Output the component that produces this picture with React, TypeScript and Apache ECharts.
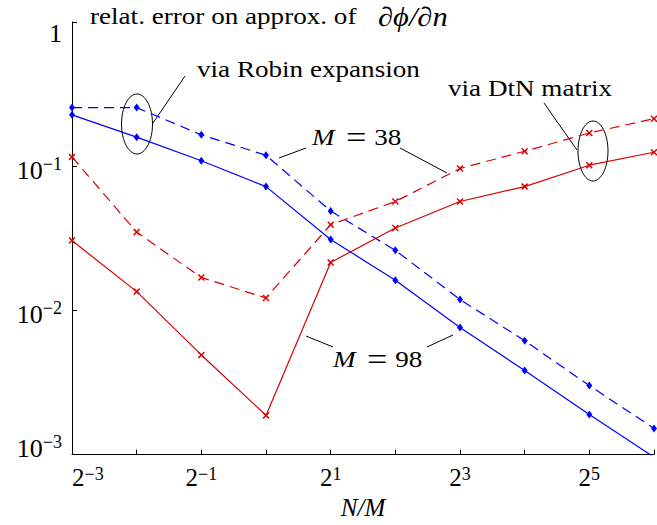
import React, { useEffect, useRef } from 'react';
import * as echarts from 'echarts';

// N/M = 2^k
const ratioExponents = [-3, -2, -1, 0, 1, 2, 3, 4, 5, 6];
// relative errors, "via Robin expansion" (blue)
const robinM38 = [0.255, 0.255, 0.165, 0.119, 0.0489, 0.0261, 0.0119, 0.00616, 0.00301, 0.00152];
const robinM98 = [0.227, 0.159, 0.109, 0.0722, 0.031, 0.0162, 0.0076, 0.00383, 0.0019, 0.00096];
// relative errors, "via DtN matrix" (red)
const dtnM38 = [0.116, 0.0349, 0.0169, 0.0122, 0.0393, 0.0569, 0.0964, 0.127, 0.17, 0.2135];
const dtnM98 = [0.0305, 0.0135, 0.00491, 0.00187, 0.0215, 0.0373, 0.0569, 0.0722, 0.1016, 0.125];
// tick labels
const xLabelExponents = [-3, -1, 1, 3, 5];
const yLabelExponents = [-3, -2, -1, 0];

const titleText = 'relat. error on approx. of ';
const titleMath = '∂ϕ/∂n';
const xAxisName = 'N/M';

const SERIF = 'Liberation Serif, serif';
const BLUE = '#0000ff';
const RED = '#d80000';
const CROSS = 'path://M0,1.5L1.5,0L5,3.5L8.5,0L10,1.5L6.5,5L10,8.5L8.5,10L5,6.5L1.5,10L0,8.5L3.5,5Z';

const toPairs = (vals: number[]) => ratioExponents.map((e, i) => [Math.pow(2, e), vals[i]]);
const sup = (s: number) => (s < 0 ? '\u2212' + Math.abs(s) : String(s));

export default function App() {
  const ref = useRef<HTMLDivElement>(null);
  useEffect(() => {
    if (!ref.current) return;
    const chart = echarts.init(ref.current, undefined, { renderer: 'svg' });
    const tf = (size: number, extra: any = {}) => ({ fontFamily: SERIF, fontSize: size, color: '#000', ...extra });
    const annSX = 1.13;
    const line = (x1: number, y1: number, x2: number, y2: number) => ({
      type: 'line', shape: { x1, y1, x2, y2 }, style: { stroke: '#000', lineWidth: 1 }, silent: true,
    });
    const mathRich = {
      i: tf(24, { fontStyle: 'italic', lineHeight: 30 }),
      e: tf(32, { lineHeight: 30, padding: [0, 7, 0, 10] }),
      r: tf(24, { lineHeight: 30 }),
    };
    const option: any = {
      animation: false,
      backgroundColor: '#fff',
      grid: { left: 72, right: 0, top: 22, bottom: 66, containLabel: false },
      xAxis: {
        type: 'log',
        logBase: 2,
        min: Math.pow(2, ratioExponents[0]),
        max: Math.pow(2, ratioExponents[ratioExponents.length - 1]),
        splitNumber: 9,
        splitLine: { show: false },
        minorTick: { show: false },
        axisLine: { lineStyle: { color: '#000', width: 1 } },
        axisTick: { inside: true, length: 5, lineStyle: { color: '#000', width: 1 } },
        axisLabel: {
          margin: 10,
          alignMinLabel: 'left',
          verticalAlign: 'top',
          formatter: (v: number) => {
            const k = Math.round(Math.log2(v));
            return xLabelExponents.includes(k) ? `{b|2}{s|${sup(k)}}` : '';
          },
          rich: {
            b: tf(25, { lineHeight: 26 }),
            s: tf(18, { lineHeight: 13, verticalAlign: 'top' }),
          },
        },
        name: xAxisName,
        nameLocation: 'middle',
        nameGap: 37,
        nameTextStyle: tf(25, { fontStyle: 'italic', lineHeight: 25 }),
      },
      yAxis: {
        type: 'log',
        logBase: 10,
        min: 0.001,
        max: 1,
        splitLine: { show: false },
        minorTick: { show: false },
        axisLine: { lineStyle: { color: '#000', width: 1 } },
        axisTick: { inside: true, length: 5, lineStyle: { color: '#000', width: 1 } },
        axisLabel: {
          margin: 10,
          verticalAlignMinLabel: 'bottom',
          verticalAlignMaxLabel: 'top',
          formatter: (v: number) => {
            const k = Math.round(Math.log10(v));
            if (!yLabelExponents.includes(k)) return '';
            if (k === 0) return '{one|1}';
            return `{b|10}{s|${sup(k)}}`;
          },
          rich: {
            b: tf(26, { lineHeight: 22, padding: [9, 0, 0, 0] }),
            s: tf(18, { lineHeight: 21, verticalAlign: 'top' }),
            one: tf(26, { lineHeight: 22 }),
          },
        },
      },
      series: [
        {
          type: 'line', name: 'Robin M=38', data: toPairs(robinM38),
          symbol: 'diamond', symbolSize: [6, 8], showSymbol: true,
          lineStyle: { color: BLUE, width: 1.2, type: [10, 6] }, itemStyle: { color: BLUE },
        },
        {
          type: 'line', name: 'Robin M=98', data: toPairs(robinM98),
          symbol: 'diamond', symbolSize: [6, 8],
          lineStyle: { color: BLUE, width: 1.2 }, itemStyle: { color: BLUE },
        },
        {
          type: 'line', name: 'DtN M=38', data: toPairs(dtnM38),
          symbol: CROSS, symbolSize: 7,
          lineStyle: { color: RED, width: 1.2, type: [10, 6] }, itemStyle: { color: RED },
        },
        {
          type: 'line', name: 'DtN M=98', data: toPairs(dtnM98),
          symbol: CROSS, symbolSize: 7,
          lineStyle: { color: RED, width: 1.2 }, itemStyle: { color: RED },
        },
      ],
      graphic: [
        {
          type: 'text', x: 90, y: 16.5, scaleX: annSX, silent: true,
          style: {
            text: `{t|${titleText}}{m|${titleMath}}`,
            align: 'left', verticalAlign: 'middle',
            rich: {
              t: tf(24, { lineHeight: 28 }),
              m: tf(27, { fontStyle: 'italic', lineHeight: 28, padding: [0, 0, 0, 13] }),
            },
          },
        },
        {
          type: 'text', x: 197, y: 69, scaleX: annSX, silent: true,
          style: { text: 'via Robin expansion', ...tf(24), align: 'left', verticalAlign: 'middle' },
        },
        {
          type: 'text', x: 448, y: 88.5, scaleX: annSX, silent: true,
          style: { text: 'via DtN matrix', ...tf(24), align: 'left', verticalAlign: 'middle' },
        },
        {
          type: 'text', x: 312, y: 137.5, scaleX: annSX, silent: true,
          style: { text: '{i|M}{e|=}{r|38}', align: 'left', verticalAlign: 'middle', rich: mathRich },
        },
        {
          type: 'text', x: 333, y: 359, scaleX: annSX, silent: true,
          style: { text: '{i|M}{e|=}{r|98}', align: 'left', verticalAlign: 'middle', rich: mathRich },
        },
        { type: 'ellipse', shape: { cx: 137, cy: 124, rx: 15.5, ry: 30 }, style: { fill: 'none', stroke: '#000', lineWidth: 1 }, silent: true },
        { type: 'ellipse', shape: { cx: 593, cy: 151, rx: 15, ry: 30 }, style: { fill: 'none', stroke: '#000', lineWidth: 1 }, silent: true },
        line(185, 76, 153, 123),
        line(544, 103, 577, 150),
        line(279, 158, 306, 148),
        line(400, 148, 447, 173),
        line(306, 336, 333, 347),
        line(427, 347, 453, 335),
      ],
    };
    chart.setOption(option);
    return () => chart.dispose();
  }, []);
  return (
    <div
      ref={ref}
      style={{ position: 'fixed', left: 0, top: 0, width: 657, height: 525, background: '#fff' }}
    />
  );
}
